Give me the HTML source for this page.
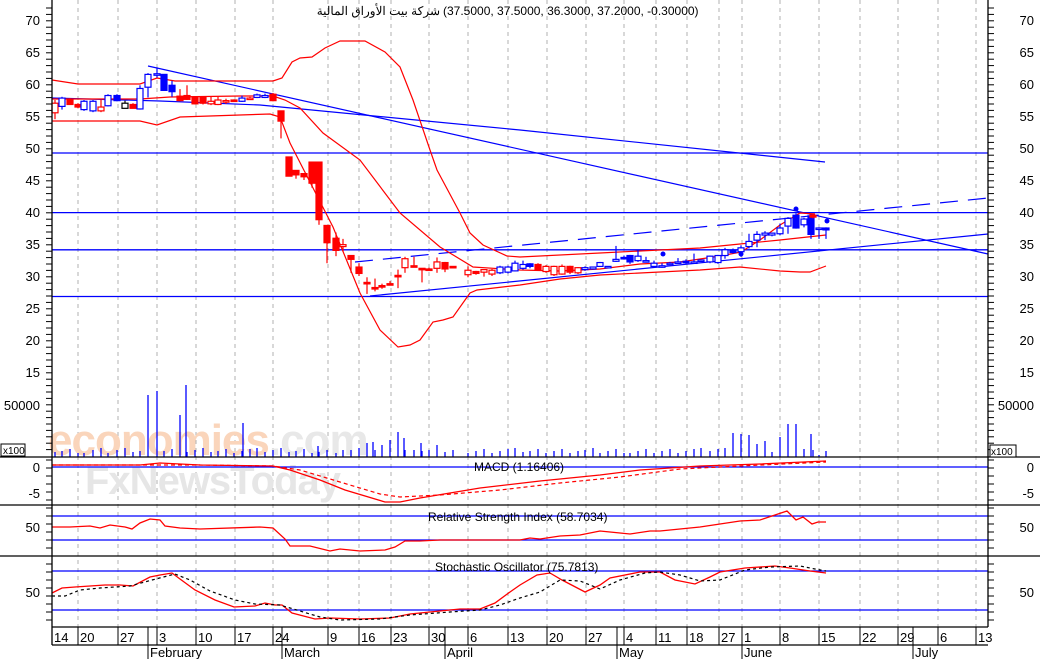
<!DOCTYPE html>
<html><head><meta charset="utf-8"><style>
html,body{margin:0;padding:0;background:#fff;}
svg{display:block;font-family:"Liberation Sans","Noto Sans CJK SC",sans-serif;}
</style></head><body>
<svg id="s" width="1040" height="659" viewBox="0 0 1040 659" xmlns="http://www.w3.org/2000/svg">
<rect width="1040" height="659" fill="#fff"/>
<g id="grid" stroke="#b0b0b0" stroke-dasharray="4,4" stroke-width="1"></g>
<!-- watermark -->
<text x="48" y="455" font-size="44" fill="#fad5bb" font-weight="bold" letter-spacing="-1">economies<tspan fill="#e8e8e8">.com</tspan></text>
<text x="85" y="494" font-size="40" fill="#e6e6e6" font-weight="bold" letter-spacing="-1">FxNewsToday</text>
<g id="g"></g>
<!-- axes frame -->
<g stroke="#000" stroke-width="1.3" fill="none">
<line x1="52" y1="0" x2="52" y2="645"/>
<line x1="988" y1="0" x2="988" y2="627"/>
<line x1="0" y1="457" x2="1040" y2="457"/>
<line x1="0" y1="505" x2="1040" y2="505"/>
<line x1="0" y1="556" x2="1040" y2="556"/>
<line x1="52" y1="627" x2="988" y2="627"/>
<line x1="52" y1="645" x2="988" y2="645"/>
</g>
<g id="ticks" stroke="#000" stroke-width="1"></g>
<rect x="1" y="444" width="24" height="12" fill="#fff" stroke="#000"/>
<text x="3" y="454" font-size="10">x100</text>
<rect x="990" y="445" width="26" height="12" fill="#fff" stroke="#000"/>
<text x="991" y="455" font-size="10">x100</text>
<g font-size="13" fill="#000">
<text x="40" y="25" text-anchor="end">70</text><text x="40" y="57" text-anchor="end">65</text><text x="40" y="89" text-anchor="end">60</text><text x="40" y="121" text-anchor="end">55</text><text x="40" y="153" text-anchor="end">50</text><text x="40" y="185" text-anchor="end">45</text><text x="40" y="217" text-anchor="end">40</text><text x="40" y="249" text-anchor="end">35</text><text x="40" y="281" text-anchor="end">30</text><text x="40" y="313" text-anchor="end">25</text><text x="40" y="345" text-anchor="end">20</text><text x="40" y="377" text-anchor="end">15</text>
<text x="40" y="410" text-anchor="end">50000</text>
<text x="40" y="472" text-anchor="end">0</text><text x="40" y="498" text-anchor="end">-5</text>
<text x="40" y="532" text-anchor="end">50</text><text x="40" y="597" text-anchor="end">50</text>
<text x="1034" y="25" text-anchor="end">70</text><text x="1034" y="57" text-anchor="end">65</text><text x="1034" y="89" text-anchor="end">60</text><text x="1034" y="121" text-anchor="end">55</text><text x="1034" y="153" text-anchor="end">50</text><text x="1034" y="185" text-anchor="end">45</text><text x="1034" y="217" text-anchor="end">40</text><text x="1034" y="249" text-anchor="end">35</text><text x="1034" y="281" text-anchor="end">30</text><text x="1034" y="313" text-anchor="end">25</text><text x="1034" y="345" text-anchor="end">20</text><text x="1034" y="377" text-anchor="end">15</text>
<text x="1034" y="410" text-anchor="end">50000</text>
<text x="1034" y="472" text-anchor="end">0</text><text x="1034" y="498" text-anchor="end">-5</text>
<text x="1034" y="532" text-anchor="end">50</text><text x="1034" y="597" text-anchor="end">50</text>
</g>
<g font-size="12" fill="#000">
<text x="440" y="15" text-anchor="end">شركة بيت الأوراق المالية</text>
<text x="443" y="15">(37.5000, 37.5000, 36.3000, 37.2000, -0.30000)</text>
<text x="474" y="471">MACD (1.16406)</text>
<text x="428" y="521">Relative Strength Index (58.7034)</text>
<text x="435" y="571">Stochastic Oscillator (75.7813)</text>
</g>
<g id="dates" font-size="13" fill="#000"></g>
</svg>
<script>
var NS="http://www.w3.org/2000/svg";
function el(p,t,a){var e=document.createElementNS(NS,t);for(var k in a)e.setAttribute(k,a[k]);p.appendChild(e);return e;}
var G=document.getElementById('g'),grid=document.getElementById('grid'),T=document.getElementById('ticks'),D=document.getElementById('dates');
var gx=[78,118,157,196,235,273,328,359,391,429,468,508,547,586,624,656,687,719,742,780,819,860,898,938,976];
gx.forEach(function(x){el(grid,'line',{x1:x,y1:0,x2:x,y2:627});});
var lab=[[52,'14'],[78,'20'],[118,'27'],[157,'3'],[196,'10'],[235,'17'],[273,'24'],[328,'9'],[359,'16'],[391,'23'],[429,'30'],[468,'6'],[508,'13'],[547,'20'],[586,'27'],[624,'4'],[656,'11'],[687,'18'],[719,'27'],[742,'1'],[780,'8'],[819,'15'],[860,'22'],[898,'29'],[938,'6'],[976,'13']];
lab.forEach(function(l){el(T,'line',{x1:l[0],y1:627,x2:l[0],y2:645});var t=el(D,'text',{x:l[0]+2,y:642});t.textContent=l[1];});
[[148,'February'],[282,'March'],[445,'April'],[617,'May'],[742,'June'],[913,'July']].forEach(function(m){el(T,'line',{x1:m[0],y1:627,x2:m[0],y2:659});var t=el(D,'text',{x:m[0]+2,y:657});t.textContent=m[1];});
for(var y=8;y<455;y+=6.4){el(T,'line',{x1:46,y1:y,x2:52,y2:y});el(T,'line',{x1:988,y1:y,x2:994,y2:y});}
for(var y=460;y<627;y+=8){el(T,'line',{x1:46,y1:y,x2:52,y2:y});el(T,'line',{x1:988,y1:y,x2:994,y2:y});}
function P(p){return 20+(70-p)*6.4;}
function line(pts,col,w,dash){var a={points:pts.map(function(q){return q.join(',');}).join(' '),fill:'none',stroke:col,'stroke-width':w||1};if(dash)a['stroke-dasharray']=dash;el(G,'polyline',a);}
var B='#0000ff',R='#ff0000';
[153,212.6,249.8,296.5].forEach(function(y){el(G,'line',{x1:52,y1:y,x2:988,y2:y,stroke:B,'stroke-width':1.3});});
[516,540,571,610,467].forEach(function(y){el(G,'line',{x1:52,y1:y,x2:988,y2:y,stroke:B,'stroke-width':1.2});});
line([[148,66],[988,254]],B,1.2);
line([[52,98],[160,101],[260,105],[520,130],[825,162]],B,1.2);
line([[370,296],[988,234]],B,1.2);
line([[355,262],[988,198]],B,1.2,'18,10');
line([[52,80],[78,84],[140,84],[157,78],[175,81],[273,81],[282,78],[292,62],[300,58],[312,57],[325,48],[340,41],[365,41],[385,52],[400,67],[413,100],[430,150],[437,170],[460,213],[470,233],[483,245],[507,256],[520,257],[600,253],[660,250],[700,248],[740,244],[780,240],[826,235]],R,1.2);
line([[52,99],[140,99],[170,97],[240,96],[273,96],[285,100],[300,108],[323,133],[360,160],[400,213],[440,247],[473,267],[520,270],[560,271],[600,269],[640,264],[680,262],[720,256],[741,252],[760,240],[780,225],[800,213],[815,214]],R,1.2);
line([[52,121],[140,121],[157,125],[180,117],[270,114],[280,117],[290,143],[333,227],[360,293],[380,330],[398,347],[410,345],[420,340],[433,322],[443,320],[453,317],[470,293],[477,290],[520,285],[560,279],[600,275],[640,273],[700,270],[740,267],[780,271],[800,272],[810,272],[826,266]],R,1.2);
var C=[[55,55.5,57,57.5,54.5,'r',0],[62,56.5,57.8,58,56,'b',0],[70,57.5,56.8,57.8,56.8,'r',1],[78,56.8,56.4,57,56.2,'r',1],[84,56,57.3,57.5,55.8,'b',0],[93,55.8,57.3,57.5,55.6,'b',0],[101,55.8,56.4,57.5,55.6,'r',0],[108,56.6,58.2,58.4,56.5,'b',0],[117,57.4,58.2,58.4,57.3,'b',1],[125,56.2,57,57.4,56.2,'k',0],[133,56.8,56.2,57,56.2,'r',1],[140,56.1,59.3,59.8,56,'b',0],[148,59.5,61.5,61.7,57.9,'b',0],[157,61.6,61.6,62.6,61,'b',0],[164,61.5,59,61.5,59,'b',1],[172,59.8,58.8,60.5,58,'b',1],[180,58.1,57.4,59.2,57.3,'r',1],[187,58.2,57.6,59.8,57.5,'r',1],[195,58,56.9,58,56.8,'r',1],[203,58,57,58,56.8,'r',1],[211,57.3,56.9,58,56.7,'r',0],[218,57.5,56.8,58,56.7,'r',0],[226,57.4,57.2,57.7,56.9,'r',0],[234,57.5,57.4,57.6,57.3,'r',1],[242,57.3,57.8,58.2,57.2,'b',0],[250,57.8,57.8,58,57.6,'r',0],[257,57.9,58.3,58.5,57.8,'b',0],[265,57.9,58.2,58.5,57.8,'b',0],[273,58.4,57.4,58.6,57.3,'r',1],[281,55.8,54.2,55.8,51.5,'r',1],[289,48.6,45.6,48.6,45.6,'r',1],[296,46.5,45.8,46.5,45.2,'r',1],[304,46,45.5,46,45,'r',1],[312,47.8,44.5,47.8,43.8,'r',1],[319,47.8,38.8,47.8,38,'r',1],[327,37.9,35.2,37.9,32,'r',1],[336,35.9,34,36.8,33.1,'r',1],[343,34.6,34.9,35.8,33.8,'r',0],[351,33.2,32.6,33.2,30.5,'r',1],[359,31.4,30.4,32,30,'r',1],[367,29,29,29.8,27.2,'r',1],[375,28.2,28,29.6,27.6,'r',1],[382,28.5,28.4,28.8,28,'r',1],[390,28.8,28.6,29.2,28.6,'r',1],[398,30.1,30.1,31,28.1,'r',1],[405,31.3,32.7,33,30.5,'r',0],[414,31.6,31.6,33,31.4,'r',1],[422,31.2,31.2,31.2,29,'r',1],[429,31.1,31.1,31.3,30.8,'r',1],[437,31.2,32.2,32.9,30.5,'r',0],[445,32.1,31.1,32.2,30.6,'r',1],[453,31.5,31.5,31.5,31.5,'r',1],[468,30.2,30.9,31.5,29.8,'r',0],[476,30.4,30.7,30.8,30.2,'r',1],[484,30.6,31,31,29.9,'r',0],[492,30.3,30.9,31.1,30,'r',0],[500,30.5,31.4,31.6,30.3,'b',0],[508,30.6,31.4,31.6,30.4,'b',0],[515,30.8,32,32.4,30.7,'b',0],[523,31.2,31.8,32.4,31,'b',0],[530,31.5,31.9,32,31.2,'b',1],[538,31,31.8,32,30.8,'r',1],[546,30.7,31.5,31.7,30.5,'r',0],[554,30.2,31.5,31.6,30,'r',0],[562,30.3,31.5,31.8,30.2,'r',0],[570,30.6,31.5,31.6,30.3,'r',1],[578,30.5,31.3,31.4,30.3,'r',0],[585,31,31.3,31.5,30.8,'b',0],[593,31.1,31.4,31.4,31,'b',0],[600,31.5,32.1,32.2,31.4,'b',0],[608,31.4,31.5,31.5,31.4,'b',0],[616,32.3,32.6,34.7,32.2,'b',0],[624,32.8,32.9,33.2,32.6,'b',1],[630,32.2,33.2,33.3,31.9,'b',1],[638,32.4,33.1,34,32.2,'b',0],[646,32.4,32.3,33,32.1,'b',0],[654,31.5,32,32.4,31.4,'b',0],[662,31.6,31.5,32,31.3,'b',0],[670,31.9,32,32.2,31.7,'b',0],[678,32.2,32.1,32.8,32,'b',0],[686,32.2,32.3,32.6,31.9,'b',1],[694,32,32.2,33.5,31.9,'b',0],[701,32.4,32.5,32.5,32.4,'b',0],[710,32.2,33.1,33.2,32,'b',0],[718,32.1,33.2,33.3,31.9,'b',0],[725,33.2,34.1,34.4,32.7,'b',0],[733,33.9,33.9,34.3,33.5,'b',1],[741,33.8,34.4,34.8,33,'b',0],[749,34.6,35.4,36.6,34.3,'b',0],[757,35.6,36.5,37,34.5,'b',0],[765,36.7,36.4,37,35.6,'b',0],[772,36.4,36.7,36.7,36.2,'b',0],[780,36.6,37.5,38.2,36.4,'b',0],[788,37.8,39,39.2,36.6,'b',0],[796,37.5,39.5,39.8,37.4,'b',1],[804,38,38.9,39.1,37.6,'b',0],[811,39.4,36.5,39.6,35.8,'b',1],[813,39.5,39.2,39.6,39,'r',1],[819,37.5,37.5,37.6,35.8,'b',0],[826,37.2,37.5,37.6,35.8,'b',1]];
var col={r:R,b:B,k:'#000'};
C.forEach(function(c){var x=c[0],cl=col[c[5]];var top=P(Math.max(c[1],c[2])),bot=P(Math.min(c[1],c[2]));
el(G,'line',{x1:x,y1:P(c[3]),x2:x,y2:P(c[4]),stroke:cl,'stroke-width':1.2});
var h=Math.max(bot-top,1.5);el(G,'rect',{x:x-3,y:top,width:6,height:h,fill:c[6]?cl:'#fff',stroke:cl,'stroke-width':1.2});});
[[796,209],[827,221],[663,254],[741,254]].forEach(function(d){el(G,'circle',{cx:d[0],cy:d[1],r:2.5,fill:B});});
var big={148:395,157:391,180:415,186:385,243:423,318:446,335:444,343:450,367:443,373:442,382:445,390:440,398:432,404:438,414:450,421:443,437:445,726:410,733:433,741:434,749:435,757:444,765:441,772:452,780:437,788:424,796:424,804:449,811:434,819:455,826:451};
C.forEach(function(c){var x=c[0];var t=big[x]!==undefined?big[x]:(453-(x*7%6));el(G,'line',{x1:x,y1:457,x2:x,y2:t,stroke:B,'stroke-width':1.3});});
[186,243,318,373,404,421].forEach(function(x){el(G,'line',{x1:x,y1:457,x2:x,y2:big[x],stroke:B,'stroke-width':1.3});});
line([[52,465],[140,465],[160,463],[200,465],[273,466],[290,470],[320,480],[345,490],[385,502],[400,502],[420,498],[480,488],[540,481],[600,475],[640,470],[700,466],[760,464],[826,461]],R,1.3);
line([[52,465],[150,465],[200,465],[273,466],[300,470],[340,482],[380,494],[400,497],[440,495],[500,490],[560,483],[620,477],[680,469],[740,466],[826,462]],R,1.2,'4,3');
line([[52,527],[70,527],[90,526],[100,528],[110,525],[125,527],[132,529],[140,523],[150,519],[160,520],[165,526],[180,528],[200,529],[260,527],[273,528],[285,539],[290,546],[310,546],[330,551],[340,549],[360,551],[385,550],[395,547],[405,541],[420,541],[440,540],[480,540],[520,540],[530,538],[540,539],[560,536],[580,535],[600,531],[610,532],[630,534],[650,531],[660,531],[700,527],[740,521],[760,520],[787,511],[796,520],[803,517],[812,524],[818,522],[826,522]],R,1.3);
line([[52,593],[62,588],[75,587],[90,586],[105,585],[120,585],[133,586],[150,577],[160,575],[172,573],[180,579],[195,590],[215,600],[234,607],[255,606],[265,603],[275,605],[282,605],[292,613],[315,619],[330,618],[360,619],[390,618],[410,614],[440,611],[460,609],[480,609],[495,603],[510,592],[520,585],[537,575],[550,573],[562,580],[585,592],[600,585],[610,578],[640,572],[660,572],[675,580],[695,584],[710,577],[720,572],[745,568],[775,566],[790,568],[810,571],[826,573]],R,1.3);
line([[52,596],[65,596],[80,590],[100,588],[130,586],[152,580],[175,574],[190,580],[210,591],[235,600],[255,604],[280,605],[300,611],[320,617],[340,620],[380,619],[410,615],[450,612],[480,610],[500,605],[520,598],[540,592],[560,580],[580,581],[600,589],[620,580],[645,573],[660,572],[680,575],[700,581],[720,580],[745,570],[770,567],[800,566],[815,569],[826,571]],'#000',1.2,'3,3');
</script>
</body></html>
